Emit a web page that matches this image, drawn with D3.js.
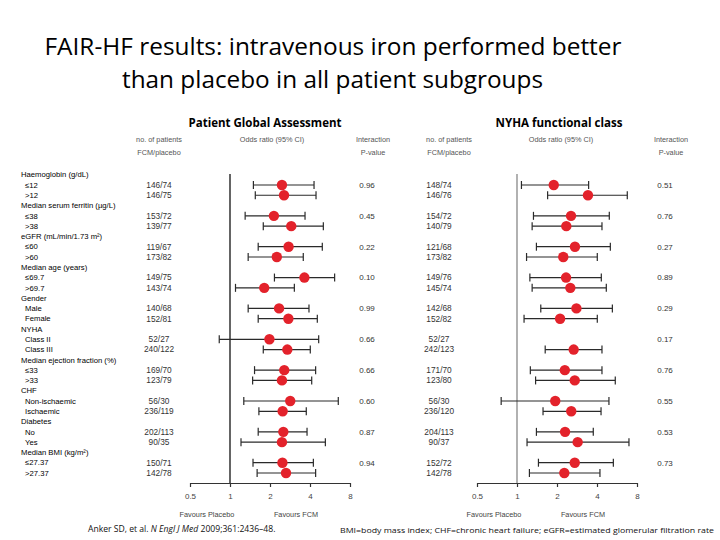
<!DOCTYPE html>
<html>
<head>
<meta charset="utf-8">
<script src="https://cdn.jsdelivr.net/npm/d3@7"></script>
<style>
body { margin: 0; background: #fff; }
svg { display: block; }
</style>
</head>
<body>
<svg id="board"></svg>
<script>
let width = 720
let height = 540

// subgroup names and values
let groupNames = ['Haemoglobin (g/dL)', 'Median serum ferritin (\u00b5g/L)', 'eGFR (mL/min/1.73 m\u00b2)',
  'Median age (years)', 'Gender', 'NYHA', 'Median ejection fraction (%)', 'CHF', 'Diabetes', 'Median BMI (kg/m\u00b2)']
let subgroupNames = ['\u226412', '>12', '\u226438', '>38', '\u226460', '>60', '\u226469.7', '>69.7', 'Male', 'Female',
  'Class II', 'Class III', '\u226433', '>33', 'Non-ischaemic', 'Ischaemic', 'No', 'Yes', '\u226427.37', '>27.37']

let pgaCounts = ['146/74', '146/75', '153/72', '139/77', '119/67', '173/82', '149/75', '143/74', '140/68', '152/81',
  '52/27', '240/122', '169/70', '123/79', '56/30', '236/119', '202/113', '90/35', '150/71', '142/78']
let pgaOR   = [2.46, 2.55, 2.14, 2.89, 2.76, 2.25, 3.63, 1.81, 2.34, 2.75, 1.98, 2.70, 2.56, 2.46, 2.84, 2.49, 2.52, 2.46, 2.48, 2.64]
let pgaLow  = [1.50, 1.55, 1.30, 1.78, 1.63, 1.37, 2.16, 1.10, 1.37, 1.63, 0.83, 1.78, 1.53, 1.48, 1.27, 1.65, 1.63, 1.21, 1.49, 1.60]
let pgaHigh = [4.29, 4.44, 3.67, 5.04, 4.95, 3.56, 6.13, 3.05, 3.93, 4.54, 4.65, 4.02, 4.41, 4.12, 6.53, 3.75, 3.80, 5.22, 4.24, 4.41]
let pgaP = ['0.96', '0.45', '0.22', '0.10', '0.99', '0.66', '0.66', '0.60', '0.87', '0.94']

let nyhaCounts = ['148/74', '146/76', '154/72', '140/79', '121/68', '173/82', '149/76', '145/74', '142/68', '152/82',
  '52/27', '242/123', '171/70', '123/80', '56/30', '236/120', '204/113', '90/37', '152/72', '142/78']
let nyhaOR   = [1.89, 3.42, 2.55, 2.35, 2.73, 2.23, 2.34, 2.52, 2.80, 2.11, null, 2.67, 2.29, 2.72, 1.94, 2.56, 2.30, 2.86, 2.72, 2.27]
let nyhaLow  = [1.08, 1.70, 1.33, 1.30, 1.40, 1.18, 1.25, 1.30, 1.51, 1.13, null, 1.63, 1.26, 1.38, 0.76, 1.57, 1.40, 1.19, 1.45, 1.24]
let nyhaHigh = [3.46, 6.76, 4.95, 4.36, 5.04, 4.02, 4.31, 4.70, 5.22, 4.02, null, 4.36, 4.36, 5.49, 4.92, 4.29, 3.75, 6.96, 5.31, 4.21]
let nyhaP = ['0.51', '0.76', '0.27', '0.89', '0.29', '0.17', '0.76', '0.55', '0.53', '0.73']

let tickValues = [0.5, 1, 2, 4, 8]

let board = d3.select('#board')
  .attr('width', width)
  .attr('height', height)

// one slot per label line: a header then its two subgroups
let yScale = d3.scalePoint()
  .domain(d3.range(groupNames.length * 3))
  .range([174.7, 473])

let rowY = (i) => yScale(Math.floor(i / 2) * 3 + 1 + (i % 2))
let groupY = (g) => yScale(g * 3)

// title
board.append('text')
  .attr('x', 333).attr('y', 55)
  .attr('text-anchor', 'middle')
  .attr('font-family', 'Open Sans').attr('font-size', 23)
  .attr('textLength', 577).attr('lengthAdjust', 'spacingAndGlyphs')
  .text('FAIR-HF results: intravenous iron performed better')
board.append('text')
  .attr('x', 332.5).attr('y', 88)
  .attr('text-anchor', 'middle')
  .attr('font-family', 'Open Sans').attr('font-size', 23)
  .attr('textLength', 421).attr('lengthAdjust', 'spacingAndGlyphs')
  .text('than placebo in all patient subgroups')

// row labels on the far left
let labelG = board.append('g')
  .attr('font-family', 'Liberation Sans').attr('font-size', 7.7).attr('fill', '#000')

labelG.selectAll('text.group')
  .data(groupNames)
  .enter()
  .append('text')
  .attr('class', 'group')
  .attr('x', 21)
  .attr('y', (d, g) => groupY(g))
  .attr('dy', '0.35em')
  .text((d) => d)

labelG.selectAll('text.sub')
  .data(subgroupNames)
  .enter()
  .append('text')
  .attr('class', 'sub')
  .attr('x', 25)
  .attr('y', (d, i) => rowY(i))
  .attr('dy', '0.35em')
  .text((d) => d)

let makePanel = function(opts) {
  let xScale = d3.scaleLog().base(2)
    .domain([0.5, 8])
    .range(opts.range)

  let g = board.append('g')

  g.append('text')
    .attr('x', opts.titleX).attr('y', 127)
    .attr('text-anchor', 'middle')
    .attr('font-family', 'Open Sans').attr('font-weight', 'bold').attr('font-size', 11.5)
    .attr('textLength', opts.titleW).attr('lengthAdjust', 'spacingAndGlyphs')
    .text(opts.title)

  let head = g.append('g')
    .attr('font-family', 'Liberation Sans').attr('font-size', 7.3).attr('fill', '#555')
    .attr('text-anchor', 'middle')
  head.append('text').attr('x', opts.countX + opts.headShift).attr('y', 142).text('no. of patients')
  head.append('text').attr('x', opts.countX + opts.headShift).attr('y', 155).text('FCM/placebo')
  head.append('text').attr('x', opts.orX).attr('y', 142).text('Odds ratio (95% CI)')
  head.append('text').attr('x', opts.pX + 6).attr('y', 142).text('Interaction')
  head.append('text').attr('x', opts.pX + 6).attr('y', 155).text('P-value')

  // line of no effect
  g.append('line')
    .attr('x1', xScale(1)).attr('x2', xScale(1))
    .attr('y1', 174).attr('y2', 483)
    .attr('stroke', opts.refColour).attr('stroke-width', 1.3)

  let rows = d3.range(opts.counts.length)

  g.append('g')
    .attr('font-family', 'Liberation Sans').attr('font-size', 8.3).attr('fill', '#333')
    .attr('text-anchor', 'middle')
    .selectAll('text')
    .data(rows)
    .enter()
    .append('text')
    .attr('x', opts.countX)
    .attr('y', (i) => rowY(i))
    .attr('dy', '0.35em')
    .text((i) => opts.counts[i])

  g.append('g')
    .attr('font-family', 'Liberation Sans').attr('font-size', 8).attr('fill', '#333')
    .attr('text-anchor', 'middle')
    .selectAll('text')
    .data(opts.pvals)
    .enter()
    .append('text')
    .attr('x', opts.pX)
    .attr('y', (d, gi) => rowY(gi * 2))
    .attr('dy', '0.35em')
    .text((d) => d)

  let marks = g.selectAll('g.row')
    .data(rows.filter((i) => opts.or[i] != null))
    .enter()
    .append('g')
    .attr('class', 'row')
    .attr('stroke', '#2a2a2a')
    .attr('stroke-width', 1.2)

  marks.append('line')
    .attr('x1', (i) => xScale(opts.low[i]))
    .attr('x2', (i) => xScale(opts.high[i]))
    .attr('y1', (i) => rowY(i))
    .attr('y2', (i) => rowY(i))
  marks.append('line')
    .attr('x1', (i) => xScale(opts.low[i]))
    .attr('x2', (i) => xScale(opts.low[i]))
    .attr('y1', (i) => rowY(i) - 4)
    .attr('y2', (i) => rowY(i) + 4)
  marks.append('line')
    .attr('x1', (i) => xScale(opts.high[i]))
    .attr('x2', (i) => xScale(opts.high[i]))
    .attr('y1', (i) => rowY(i) - 4)
    .attr('y2', (i) => rowY(i) + 4)
  marks.append('circle')
    .attr('cx', (i) => xScale(opts.or[i]))
    .attr('cy', (i) => rowY(i))
    .attr('r', 5.2)
    .attr('fill', '#e3222b')
    .attr('stroke', 'none')

  let xAxis = d3.axisBottom(xScale)
    .tickValues(tickValues)
    .tickFormat((d) => d)
    .tickSize(4)
    .tickSizeOuter(0)
    .tickPadding(6)
  let ax = g.append('g')
    .attr('transform', 'translate(0,483)')
    .call(xAxis)
  ax.select('.domain').attr('stroke', '#333').attr('stroke-width', 1.2)
  ax.selectAll('.tick line').attr('stroke', '#333').attr('stroke-width', 1.2)
  ax.selectAll('.tick text')
    .attr('font-family', 'Liberation Sans').attr('font-size', 8).attr('fill', '#444')

  let fav = g.append('g')
    .attr('font-family', 'Liberation Sans').attr('font-size', 7.3).attr('fill', '#444')
    .attr('text-anchor', 'middle')
  fav.append('text').attr('x', xScale(0.5) + 17).attr('y', 517).text('Favours Placebo')
  fav.append('text').attr('x', xScale(2) + 26).attr('y', 517).text('Favours FCM')
}

makePanel({
  title: 'Patient Global Assessment', titleX: 265, titleW: 153,
  range: [190, 350], refColour: '#111',
  counts: pgaCounts, or: pgaOR, low: pgaLow, high: pgaHigh, pvals: pgaP,
  countX: 159, headShift: 0, orX: 272, pX: 367
})

makePanel({
  title: 'NYHA functional class', titleX: 559, titleW: 127,
  range: [477, 637], refColour: '#888',
  counts: nyhaCounts, or: nyhaOR, low: nyhaLow, high: nyhaHigh, pvals: nyhaP,
  countX: 439, headShift: 10, orX: 561, pX: 665
})

// footer
let cite = board.append('text')
  .attr('x', 88).attr('y', 532)
  .attr('font-family', 'Open Sans').attr('font-size', 8.6).attr('fill', '#111')
cite.append('tspan').text('Anker SD, et al. ')
cite.append('tspan').attr('font-style', 'italic').text('N Engl J Med')
cite.append('tspan').text(' 2009;361:2436\u201348.')

board.append('text')
  .attr('x', 714).attr('y', 533)
  .attr('text-anchor', 'end')
  .attr('font-family', 'Open Sans').attr('font-size', 7.2).attr('fill', '#111')
  .attr('textLength', 374).attr('lengthAdjust', 'spacingAndGlyphs')
  .text('BMI=body mass index; CHF=chronic heart failure; eGFR=estimated glomerular filtration rate')
</script>
</body>
</html>
